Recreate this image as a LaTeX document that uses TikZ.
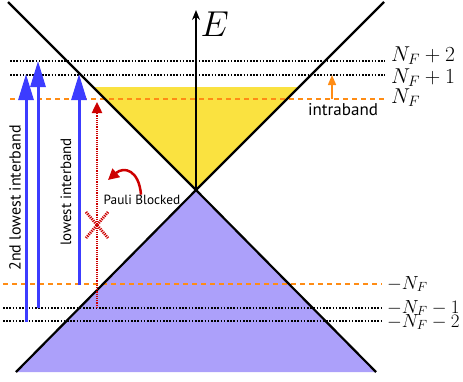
\RequirePackage{fix-cm}
\documentclass[tikz,border=0pt]{standalone}
\usepackage{amsmath,amssymb}
\usepackage{fontspec}
\setsansfont{PT Sans}
\usetikzlibrary{arrows.meta}

\definecolor{bandblue}{RGB}{60,60,255}
\definecolor{valence}{RGB}{172,160,250}
\definecolor{fermisea}{RGB}{250,226,64}
\definecolor{levelorange}{RGB}{255,140,20}
\definecolor{blockred}{RGB}{205,0,0}

\begin{document}
\begin{tikzpicture}[x=1pt,y=-1pt,
        cone/.style={line width=2.2pt},
        level/.style={line width=1.3pt, dash pattern=on 1.6pt off 1.6pt},
        fermilevel/.style={levelorange, line width=1.3pt, dash pattern=on 5pt off 4pt},
        interband/.style={bandblue, line width=3pt, -{Triangle[length=26pt,width=15pt]}},
        blocked/.style={blockred, line width=2.4pt, dash pattern=on 1.2pt off 1pt},
        lbl/.style={font=\fontsize{#1}{#1}\sffamily},
        lbl/.default=15,
        mlbl/.style={anchor=base west, inner sep=0pt, font=\fontsize{#1}{22}\selectfont},
        mlbl/.default=19]
        \useasboundingbox (0,0) rectangle (463,381);

        % filled bands
        \fill[valence] (196,190) -- (16,372) -- (376,372) -- cycle;
        \fill[fermisea] (93,87) -- (299,87) -- (196,190) -- cycle;

        % Landau levels
        \draw[level] (10,61) -- (385,61);
        \draw[level] (10,75) -- (385,75);
        \draw[level] (3,308) -- (381,308);
        \draw[level] (3,321) -- (381,321);
        \draw[fermilevel] (10,99) -- (385,99);
        \draw[fermilevel] (3,284) -- (382,284);
        \foreach \yy/\txt in {61/{$N_F+2$}, 83/{$N_F+1$}, 103/{$N_F$}}
            \node[mlbl=21.5] at (391,\yy) {\txt};
        \foreach \yy/\txt in {289/{$-N_F$}, 313/{$-N_F-1$}, 327/{$-N_F-2$}}
            \node[mlbl] at (387,\yy) {\txt};

        % Dirac cone
        \draw[cone] (8,2) -- (196,190) -- (384,2);
        \draw[cone] (16,372) -- (196,190) -- (376,372);

        % energy axis
        \draw[line width=1.4pt, -{Stealth[length=10pt,width=8pt]}] (196,190) -- (196,10);
        \node[anchor=west, font=\fontsize{36}{38}\selectfont] (E) at (197,24) {$E$};

        % transitions
        \draw[interband] (26,322) -- (26,74);
        \draw[interband] (38,308) -- (38,61);
        \draw[interband] (79,285) -- (79,74);
        \node[lbl=16, rotate=90] (second) at (15,198) {2nd lowest interband};
        \node[lbl=15, rotate=90] (lowest) at (66,192) {lowest interband};

        \draw[blocked, -{Triangle[length=11pt,width=10pt]}] (97,308) -- (97,102);
        \draw[blocked, line width=2.8pt] (86,212) -- (108,238) (108,212) -- (86,238);
        \node[lbl=13.3] (pauli) at (142,200) {Pauli Blocked};
        \coordinate (bend) at (108,180);
        \draw[blockred, line width=2.5pt, -{Triangle[length=11pt,width=11pt]}]
            (pauli.north) ++(-1,3) .. controls (139,170) and (124,166) .. (bend);

        \draw[levelorange, line width=1.5pt, -{Triangle[length=10pt,width=8pt]}] (332,99) -- (332,75);
        \node[lbl=17] (intra) at (343,110) {intraband};
\end{tikzpicture}
\end{document}
